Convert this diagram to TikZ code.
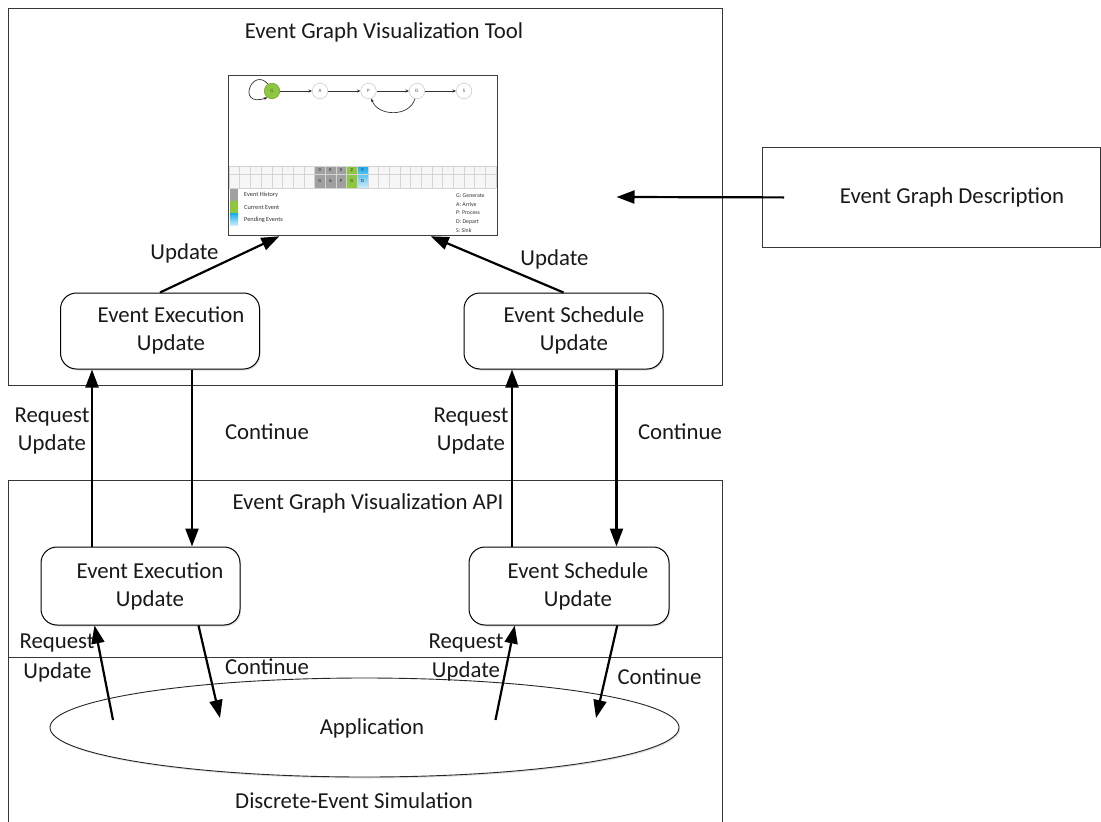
\documentclass[tikz,border=0pt]{standalone}
\usepackage{fontspec}
\setmainfont{Carlito}
\usetikzlibrary{arrows.meta,shapes.geometric,shadows,calc}
\definecolor{curgreen}{RGB}{141,198,63}
\definecolor{histgrey}{RGB}{160,160,160}
\definecolor{pendblue}{RGB}{20,170,235}
\definecolor{paleblue}{RGB}{205,236,250}
\definecolor{gridline}{RGB}{212,212,212}
\definecolor{gridfill}{RGB}{246,246,246}
\definecolor{framegrey}{RGB}{55,55,55}
\begin{document}
\begin{tikzpicture}[x=1pt,y=-1pt,
  txt/.style={font=\fontsize{22.8}{28}\selectfont, inner sep=0pt, text=black!90},
  region/.style={draw=framegrey, line width=0.8pt},
  proc/.style={draw=black, line width=1pt, rounded corners=16pt, fill=white,
    drop shadow={opacity=0.25, shadow xshift=1.2pt, shadow yshift=-1.5pt}, inner sep=0pt},
  flow/.style={line width=2.2pt, -{Triangle[length=18pt,width=13pt]}},
  mini/.style={circle, draw=black!22, line width=0.5pt, minimum size=15.5pt, inner sep=0pt,
    font=\fontsize{5}{5}\selectfont, fill=white, text=black!70},
  minilink/.style={line width=0.7pt, black!80, -{Stealth[length=3.5pt,width=3pt]}},
  cell/.style={font=\fontsize{4.5}{5}\bfseries\selectfont, inner sep=0pt, text=black!75},
  tiny/.style={font=\fontsize{6.3}{7}\selectfont, inner sep=0pt, anchor=west, text=black!80},
]
\useasboundingbox (0,0) rectangle (1101,822);

% ---- framing regions ----
\node[region, minimum width=714pt, minimum height=377pt, inner sep=0pt, anchor=north west] (tool) at (8,8) {};
\draw[region] (8,822) -- (8,480) -- (722,480) -- (722,822);
\draw[region] (8,657) -- (722,657);

\node[txt] (toolT) at (384,32) {Event Graph Visualization Tool};
\node[txt] (apiT) at (368,503) {Event Graph Visualization API};
\node[txt] (desT) at (354,801) {Discrete-Event Simulation};

% ---- visualization window ----
\node[draw=black!75, line width=1.3pt, fill=white, minimum width=269pt, minimum height=160pt,
  inner sep=0pt, anchor=north west] (shot) at (228,75) {};

% event graph
\node[mini, fill=curgreen, draw=curgreen!80!black] (g) at (272,91) {G};
\node[mini] (a) at (320,91) {A};
\node[mini] (p) at (368.5,91) {P};
\node[mini] (d) at (417,91) {D};
\node[mini] (s) at (464,91) {S};
\draw[minilink] (g.120) .. controls (252,66) and (236,108) .. (g.235);
\draw[minilink] (g) -- (a);
\draw[minilink] (a) -- (p);
\draw[minilink] (p) -- (d);
\draw[minilink] (d) -- (s);
\draw[minilink] (d.255) .. controls (410,117) and (378,117) .. (p.290);

% event list grid
\fill[gridfill] (229,166) rectangle (496,188);
\fill[histgrey] (314.4,166) rectangle (346.4,188);
\fill[curgreen] (346.4,166) rectangle (357.1,188);
\shade[top color=pendblue, bottom color=paleblue] (357.1,166) rectangle (367.8,188);
\foreach \i in {0,...,25} {
  \draw[gridline, line width=0.4pt] ({229+\i*10.68},166) -- ({229+\i*10.68},188);
}
\draw[gridline, line width=0.4pt] (229,166) -- (496,166);
\draw[gridline, line width=0.4pt] (229,174) -- (496,174);
\draw[gridline, line width=0.4pt] (229,188) -- (496,188);
\foreach \t/\b [count=\k from 0] in {0/G,0/A,0/P,2/G,5/D} {
  \node[cell] (top\k) at ({319.7+\k*10.68},170) {\t};
  \node[cell] (bot\k) at ({319.7+\k*10.68},181) {\b};
}

% legend
\fill[histgrey] (230,189) rectangle (238,201);
\fill[curgreen] (230,201) rectangle (238,213);
\shade[top color=pendblue, bottom color=paleblue] (230,213) rectangle (238,225);
\node[tiny] (lh) at (244,195) {Event History};
\node[tiny] (lc) at (244,207) {Current Event};
\node[tiny] (lp) at (244,220) {Pending Events};
\node[tiny, font=\fontsize{5.8}{7}\selectfont] (kg) at (456,196) {G: Generate};
\node[tiny, font=\fontsize{5.8}{7}\selectfont] (ka) at (456,204.5) {A: Arrive};
\node[tiny, font=\fontsize{5.8}{7}\selectfont] (kp) at (456,213) {P: Process};
\node[tiny, font=\fontsize{5.8}{7}\selectfont] (kd) at (456,222) {D: Depart};
\node[tiny, font=\fontsize{5.8}{7}\selectfont] (ks) at (456,231) {S: Sink};

% ---- event graph description ----
\node[region, minimum width=338pt, minimum height=100pt, inner sep=0pt, anchor=north west] (desc) at (762,147) {};
\node[txt] (descT) at (952,197) {Event Graph Description};
\coordinate (descTip) at (616.5,197);
\draw[flow] ($(desc.west)+(22,0)$) -- (descTip);

% ---- update processes ----
\node[proc, minimum width=199pt, minimum height=76pt] (tEx) at (160,331) {};
\node[txt, align=center] (tExT) at (171,330) {Event Execution\\Update};
\node[proc, minimum width=199pt, minimum height=76pt] (tSc) at (563.5,331) {};
\node[txt, align=center] (tScT) at (574,330) {Event Schedule\\Update};
\node[proc, minimum width=199pt, minimum height=78pt] (bEx) at (140.5,586) {};
\node[txt, align=center] (bExT) at (150,586.5) {Event Execution\\Update};
\node[proc, minimum width=200pt, minimum height=78pt] (bSc) at (569,586) {};
\node[txt, align=center] (bScT) at (578,586.5) {Event Schedule\\Update};

% application
\node[ellipse, draw=black!85, line width=0.9pt, fill=white, minimum width=629pt, minimum height=99pt,
  inner sep=0pt, drop shadow={opacity=0.25, shadow xshift=1.2pt, shadow yshift=-1.5pt}] (app) at (364.5,727.5) {};
\node[txt] (appT) at (372,728) {Application};

% ---- connectors ----
\draw[flow] (tEx.north) -- ($(shot.south west)!0.19!(shot.south east)$);
\draw[flow] (tSc.north) -- ($(shot.south west)!0.75!(shot.south east)$);
\node[txt] (updL) at (184.5,253) {Update};
\node[txt] (updR) at (554.5,259) {Update};

\coordinate (xA) at (92,0);
\coordinate (xB) at (192,0);
\coordinate (xC) at (512,0);
\coordinate (xD) at (616.5,0);
\draw[flow] (bEx.north -| xA) -- (tEx.south -| xA);
\draw[flow] (tEx.south -| xB) -- (bEx.north -| xB);
\draw[flow] (bSc.north -| xC) -- (tSc.south -| xC);
\draw[flow] (tSc.south -| xD) -- (bSc.north -| xD);
\node[txt, align=center] (reqL) at (52,431.5) {Request\\Update};
\node[txt] (conL) at (267,432) {Continue};
\node[txt, align=center] (reqR) at (471,431.5) {Request\\Update};
\node[txt] (conR) at (680,432) {Continue};

\coordinate (eA) at (113,720);
\coordinate (eB) at (220,718);
\coordinate (eC) at (495.5,720);
\coordinate (eD) at (596,718);
\draw[flow] (eA) -- ($(bEx.south west)!0.27!(bEx.south east)$);
\draw[flow] ($(bEx.south west)!0.79!(bEx.south east)$) -- (eB);
\draw[flow] (eC) -- ($(bSc.south west)!0.23!(bSc.south east)$);
\draw[flow] ($(bSc.south west)!0.74!(bSc.south east)$) -- (eD);
\node[txt] (reqL1) at (57,643) {Request};
\node[txt] (reqL2) at (57.5,672) {Update};
\node[txt] (conL2) at (267,667) {Continue};
\node[txt] (reqR1) at (466,643) {Request};
\node[txt] (reqR2) at (466,671) {Update};
\node[txt] (conR2) at (659.5,677) {Continue};
\end{tikzpicture}
\end{document}
